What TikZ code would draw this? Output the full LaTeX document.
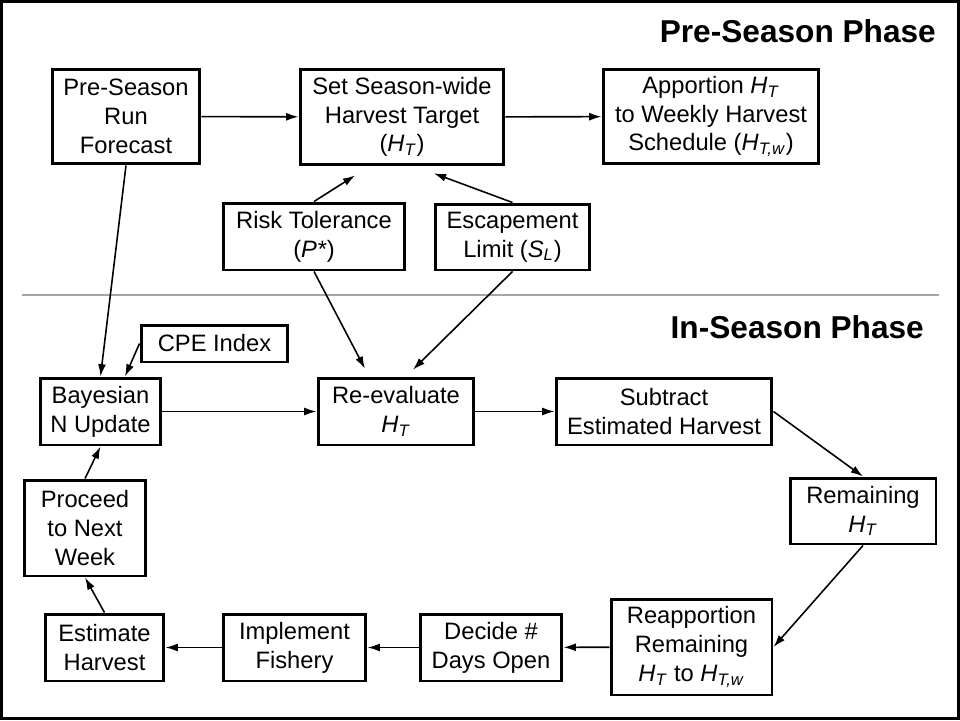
\documentclass[tikz,border=0pt]{standalone}
\usepackage{fontspec}
\setmainfont{Liberation Sans}
\usepackage{tikz}
\usetikzlibrary{arrows.meta}
\newcommand{\HT}{\textit{H}\textsubscript{\textit{T}}}
\newcommand{\HTw}{\textit{H}\textsubscript{\textit{T,w}}}

\begin{document}
\begin{tikzpicture}[x=0.02cm,y=-0.02cm,
  box/.style={draw, line width=1.7pt, align=center, inner sep=0pt,
    font=\fontsize{13.5}{16.4}\selectfont},
  arr/.style={-{Latex[length=7pt,width=4.5pt]}, line width=0.9pt},
  phase/.style={font=\fontsize{18}{21}\selectfont\bfseries}]

\useasboundingbox (0,0) rectangle (960,720);
\draw[line width=1.7pt] (1.5,1.5) rectangle (958.5,718.5);
\draw[line width=1.7pt, black!35] (22,295) -- (939,295);

\node[phase, anchor=base east] (pre) at (942,42) {Pre-Season Phase};
\node[phase, anchor=base east] (in) at (930,338) {In-Season Phase};

% pre-season
\node[box, minimum width=2.96cm, minimum height=1.9cm] (fcst) at (126,116.5)
{Pre-Season\\Run\\Forecast};
\node[box, minimum width=4.08cm, minimum height=1.9cm] (target) at (402,117)
{Set Season-wide\\Harvest Target\\(\HT)};
\node[box, minimum width=4.32cm, minimum height=1.9cm] (apport) at (711,116.5)
{Apportion \HT\\to Weekly Harvest\\Schedule (\HTw)};
\node[box, minimum width=3.64cm, minimum height=1.34cm] (risk) at (314,236.5)
{Risk Tolerance\\(\textit{P*})};
\node[box, minimum width=3.1cm, minimum height=1.32cm] (escp) at (512.5,237)
{Escapement\\Limit (\textit{S}\textsubscript{\textit{L}})};

% in-season
\node[box, minimum width=2.94cm, minimum height=0.74cm] (cpe) at (214.5,343.5)
{CPE Index};
\node[box, minimum width=2.42cm, minimum height=1.34cm] (bayes) at (100.5,411.5)
{Bayesian\\N Update};
\node[box, minimum width=3.12cm, minimum height=1.34cm] (reeval) at (396,411.5)
{Re-evaluate\\\HT};
\node[box, minimum width=4.32cm, minimum height=1.34cm] (subtr) at (664,411.5)
{Subtract\\Estimated Harvest};
\node[box, minimum width=2.92cm, minimum height=1.32cm] (remain) at (863,511)
{Remaining\\\HT};
\node[box, minimum width=3.22cm, minimum height=1.92cm] (reapp) at (691.5,647)
{Reapportion\\Remaining\\\HT{} to \HTw};
\node[box, minimum width=2.84cm, minimum height=1.34cm] (decide) at (491,647.5)
{Decide \#\\Days Open};
\node[box, minimum width=2.86cm, minimum height=1.34cm] (implem) at (294.5,647.5)
{Implement\\Fishery};
\node[box, minimum width=2.38cm, minimum height=1.34cm] (estim) at (104.5,647.5)
{Estimate\\Harvest};
\node[box, minimum width=2.44cm, minimum height=1.92cm] (proceed) at (85,528)
{Proceed\\to Next\\Week};

\draw[arr] (fcst) -- (target);
\draw[arr] (target) -- (apport);
\draw[arr, shorten >=10pt] (risk.north) -- ([xshift=-0.64cm]target.south);
\draw[arr, shorten >=12pt] (escp.north) -- ([xshift=0.24cm]target.south);
\draw[arr] (fcst.south) -- (bayes.north);
\draw[arr] (cpe.west) -- ([xshift=0.49cm]bayes.north);
\draw[arr, shorten >=5pt] (risk.south) -- ([xshift=-0.54cm]reeval.north);
\draw[arr, shorten >=5.5pt] (escp.south) -- ([xshift=0.2cm]reeval.north);
\draw[arr] (bayes) -- (reeval);
\draw[arr] (reeval) -- (subtr);
\draw[arr] (subtr.east) -- (remain.north);
\draw[arr] (remain.south) -- (reapp.east);
\draw[arr] (reapp) -- (decide);
\draw[arr] (decide) -- (implem);
\draw[arr] (implem) -- (estim);
\draw[arr] (estim.north) -- (proceed.south);
\draw[arr] (proceed.north) -- (bayes.south);
\end{tikzpicture}
\end{document}
